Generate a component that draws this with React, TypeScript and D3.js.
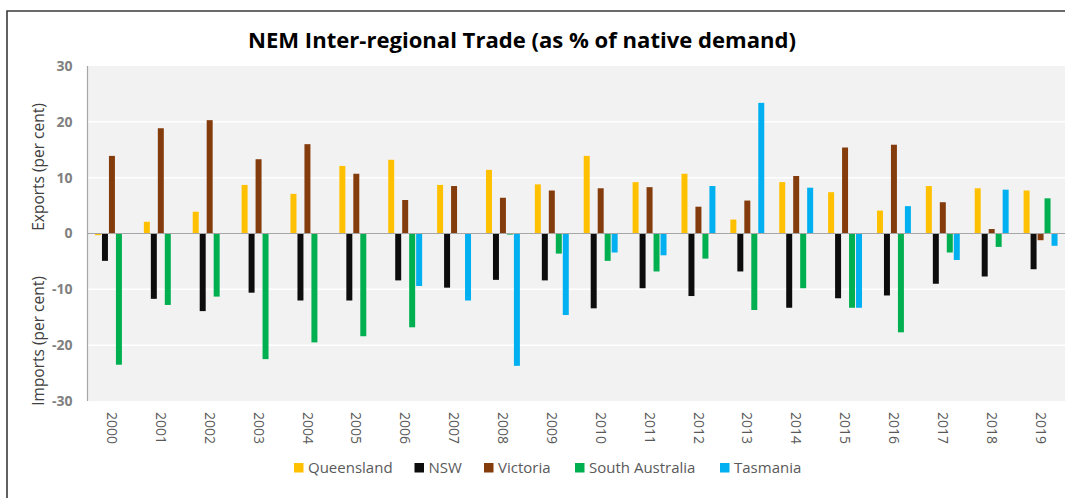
import React from "react";
import * as d3 from "d3";

const years = ["2000","2001","2002","2003","2004","2005","2006","2007","2008","2009","2010","2011","2012","2013","2014","2015","2016","2017","2018","2019"];
const seriesNames = ["Queensland", "NSW", "Victoria", "South Australia", "Tasmania"];
const queensland = [-0.3, 2.1, 3.9, 8.7, 7.1, 12.1, 13.2, 8.7, 11.4, 8.8, 13.9, 9.2, 10.7, 2.5, 9.2, 7.4, 4.1, 8.5, 8.1, 7.7];
const nsw = [-4.9, -11.7, -13.9, -10.6, -12.0, -12.0, -8.4, -9.7, -8.3, -8.4, -13.4, -9.8, -11.2, -6.8, -13.3, -11.6, -11.1, -9.0, -7.7, -6.4];
const victoria = [13.9, 18.85, 20.3, 13.3, 16.0, 10.7, 6.0, 8.5, 6.4, 7.7, 8.1, 8.3, 4.8, 5.9, 10.3, 15.4, 15.9, 5.6, 0.8, -1.2];
const southAustralia = [-23.5, -12.8, -11.3, -22.5, -19.5, -18.4, -16.8, 0, -0.2, -3.6, -4.9, -6.8, -4.5, -13.7, -9.8, -13.3, -17.7, -3.4, -2.4, 6.3];
const tasmania = [0, 0, 0, 0, 0, 0, -9.4, -12.0, -23.7, -14.6, -3.4, -3.9, 8.5, 23.4, 8.2, -13.3, 4.9, -4.75, 7.85, -2.2];
const yTicks = [-30, -20, -10, 0, 10, 20, 30];
const colors = ["#FFC000", "#0D0D0D", "#843C0C", "#00B050", "#00B0F0"];

const seriesValues = [queensland, nsw, victoria, southAustralia, tasmania];

const W = 1065;
const H = 498;
const plotLeft = 87.5;
const plotRight = 1065;
const plotTop = 66;
const plotBottom = 401;
const font = "'Open Sans', 'DejaVu Sans', sans-serif";

export default function App() {
  const x = d3.scaleBand<string>().domain(years).range([plotLeft, plotRight]).paddingInner(0).paddingOuter(0);
  const step = x.step();
  const groupW = step / 1.4;
  const inner = d3.scaleBand<string>().domain(seriesNames).range([0, groupW]).padding(0);
  const y = d3.scaleLinear().domain([-30, 30]).range([plotBottom, plotTop]);
  const barW = inner.bandwidth() - 1;

  const legendX = [294, 414.5, 484, 575, 720];
  const legendY = 468;

  return (
    <svg width={W} height={H} style={{ position: "fixed", left: 0, top: 0, background: "#fff" }} fontFamily={font}>
      <rect x={0} y={0} width={W} height={H} fill="#fff" />
      {/* chart border */}
      <path d={`M7,${H} L7,11 L${W},11`} fill="none" stroke="#3a3a3a" strokeWidth={1.6} />
      {/* title */}
      <text x={522} y={48} textAnchor="middle" fontSize={21} fontWeight="bold" fill="#000" textLength={548} lengthAdjust="spacingAndGlyphs">
        NEM Inter-regional Trade (as % of native demand)
      </text>
      {/* plot area */}
      <rect x={plotLeft} y={plotTop} width={plotRight - plotLeft} height={plotBottom - plotTop} fill="#F2F2F2" />
      {yTicks.filter(t => t !== 0 && Math.abs(t) !== 30).map(t => (
        <line key={t} x1={plotLeft} x2={plotRight} y1={y(t)} y2={y(t)} stroke="#fff" strokeWidth={1.5} />
      ))}
      {/* bars */}
      {years.map((yr, i) => (
        <g key={yr}>
          {seriesValues.map((vals, s) => {
            const v = vals[i];
            if (v === 0) return null;
            const cx = (x(yr) as number) + (step - groupW) / 2 + (inner(seriesNames[s]) as number) + 0.5;
            const y0 = y(0);
            const y1 = y(v);
            return (
              <rect key={s} x={cx} y={Math.min(y0, y1)} width={barW} height={Math.abs(y1 - y0)} fill={colors[s]} />
            );
          })}
        </g>
      ))}
      {/* zero line and axis */}
      <line x1={plotLeft} x2={plotRight} y1={y(0)} y2={y(0)} stroke="#A6A6A6" strokeWidth={1.2} />
      <line x1={plotLeft} x2={plotLeft} y1={plotTop} y2={plotBottom} stroke="#A6A6A6" strokeWidth={1.2} />
      {/* y tick labels */}
      {yTicks.map(t => (
        <text key={t} x={72.5} y={y(t)} dy="0.35em" textAnchor="end" fontSize={14} fontWeight="bold" fill="#808080">
          {t}
        </text>
      ))}
      {/* axis titles */}
      <text transform={`translate(44,167) rotate(-90)`} textAnchor="middle" fontSize={15.5} fill="#404040">Exports (per cent)</text>
      <text transform={`translate(44,341) rotate(-90)`} textAnchor="middle" fontSize={15.5} fill="#404040">Imports (per cent)</text>
      {/* x tick labels */}
      {years.map(yr => (
        <text key={yr} transform={`translate(${(x(yr) as number) + step / 2},412) rotate(90)`} dy="0.35em" textAnchor="start" fontSize={14} fill="#595959">
          {yr}
        </text>
      ))}
      {/* legend */}
      {seriesNames.map((n, i) => (
        <g key={n}>
          <rect x={legendX[i]} y={legendY - 5} width={9.5} height={9.5} fill={colors[i]} />
          <text x={legendX[i] + 14} y={legendY} dy="0.35em" fontSize={15} fill="#595959">{n}</text>
        </g>
      ))}
    </svg>
  );
}
